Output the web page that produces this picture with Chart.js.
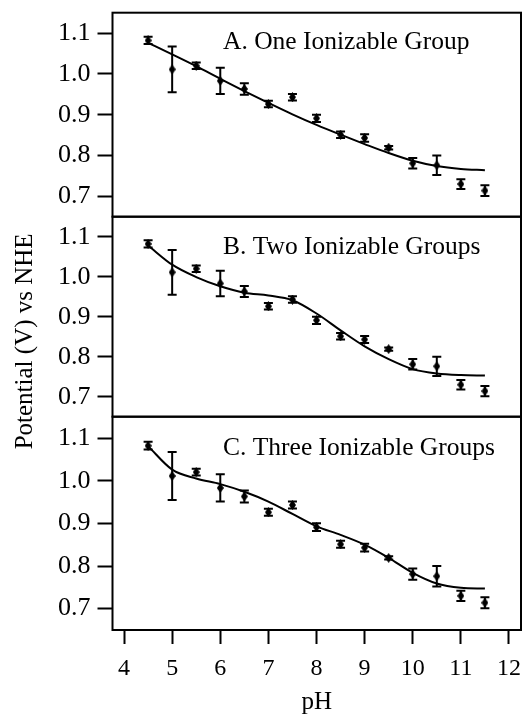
<!DOCTYPE html>
<html>
<head>
<meta charset="utf-8">
<script src="https://cdn.jsdelivr.net/npm/chart.js@4.4.1/dist/chart.umd.min.js"></script>
<style>
  html, body { margin: 0; padding: 0; background: #fff; }
  canvas { display: block; }
</style>
</head>
<body>
<canvas id="myChart" width="527" height="717"></canvas>
<script>
// measured potential (V vs NHE) at each pH, same points in all three panels
const phValues = [4.5, 5, 5.5, 6, 6.5, 7, 7.5, 8, 8.5, 9, 9.5, 10, 10.5, 11, 11.5];
const potential = [1.082, 1.011, 1.020, 0.983, 0.963, 0.926, 0.943, 0.891, 0.851, 0.843, 0.819, 0.781, 0.776, 0.730, 0.714];
const potentialErr = [0.009, 0.056, 0.008, 0.032, 0.014, 0.008, 0.008, 0.009, 0.008, 0.009, 0.004, 0.013, 0.024, 0.012, 0.013];

// fit curves at the same pH values
const fitOne = [1.076, 1.048, 1.019, 0.988, 0.958, 0.929, 0.901, 0.875, 0.851, 0.828, 0.806, 0.787, 0.774, 0.767, 0.764];
const fitTwo = [1.078, 1.030, 0.999, 0.976, 0.960, 0.953, 0.941, 0.908, 0.866, 0.826, 0.794, 0.769, 0.758, 0.754, 0.753];
const fitThree = [1.081, 1.026, 1.005, 0.992, 0.974, 0.951, 0.922, 0.893, 0.873, 0.850, 0.819, 0.784, 0.759, 0.749, 0.747];

const panelTitles = ['A. One Ionizable Group', 'B. Two Ionizable Groups', 'C. Three Ionizable Groups'];
const xTicks = [4, 5, 6, 7, 8, 9, 10, 11, 12];
const yTicks = [0.7, 0.8, 0.9, 1.0, 1.1];

const family = '"Liberation Serif", "Times New Roman", serif';

const panels = [
  { id: 'yA', fit: fitOne, title: panelTitles[0], size: 204, order: 3, titleDy: 36 },
  { id: 'yB', fit: fitTwo, title: panelTitles[1], size: 200, order: 2, titleDy: 37.5 },
  { id: 'yC', fit: fitThree, title: panelTitles[2], size: 213.3, order: 1, titleDy: 38.5 }
];

// small tall diamond used as the marker
const diamond = document.createElement('canvas');
diamond.width = 7;
diamond.height = 10;
const dctx = diamond.getContext('2d');
dctx.fillStyle = '#000';
dctx.beginPath();
dctx.moveTo(3.5, 0);
dctx.lineTo(7, 5);
dctx.lineTo(3.5, 10);
dctx.lineTo(0, 5);
dctx.closePath();
dctx.fill();

const errorBars = {
  id: 'errorBars',
  afterDatasetsDraw(chart) {
    const ctx = chart.ctx;
    const xs = chart.scales.x;
    chart.data.datasets.forEach(ds => {
      if (!ds.errors) return;
      const ys = chart.scales[ds.yAxisID];
      ctx.save();
      ctx.strokeStyle = '#000';
      ctx.lineWidth = 2;
      ds.data.forEach((p, i) => {
        const px = xs.getPixelForValue(p.x);
        const top = ys.getPixelForValue(p.y + ds.errors[i]);
        const bot = ys.getPixelForValue(p.y - ds.errors[i]);
        ctx.beginPath();
        ctx.moveTo(px, top);
        ctx.lineTo(px, bot);
        ctx.moveTo(px - 4.5, top);
        ctx.lineTo(px + 4.5, top);
        ctx.moveTo(px - 4.5, bot);
        ctx.lineTo(px + 4.5, bot);
        ctx.stroke();
      });
      ctx.restore();
    });
  }
};

const panelDecor = {
  id: 'panelDecor',
  afterDraw(chart) {
    const { ctx, chartArea } = chart;
    ctx.save();
    ctx.strokeStyle = '#000';
    ctx.fillStyle = '#000';
    ctx.lineWidth = 2;
    ctx.font = '25.5px ' + family;
    ctx.textBaseline = 'alphabetic';
    panels.forEach(p => {
      const s = chart.scales[p.id];
      ctx.strokeRect(chartArea.left, s.top, chartArea.right - chartArea.left, s.bottom - s.top);
      ctx.fillText(p.title, chartArea.left + 110.5, s.top + p.titleDy);
    });
    // one y title for the whole stack
    ctx.font = '25px ' + family;
    ctx.translate(25, (chartArea.top + chartArea.bottom) / 2 + 20);
    ctx.rotate(-Math.PI / 2);
    ctx.textAlign = 'center';
    ctx.textBaseline = 'middle';
    ctx.fillText('Potential (V) vs NHE', 0, 0);
    ctx.restore();
  }
};

// fixed axis sizes, no extra label padding around the plot area
const fixX = s => { s.height = 87; s.paddingLeft = 0; s.paddingRight = 0; };
const fixY = s => { s.width = 112.5; s.paddingTop = 0; s.paddingBottom = 0; };

const scales = {
  x: {
    type: 'linear',
    position: 'bottom',
    min: 3.76,
    max: 12.25,
    afterBuildTicks: s => { s.ticks = xTicks.map(v => ({ value: v })); },
    afterFit: fixX,
    border: { display: false },
    grid: { drawOnChartArea: false, tickLength: 14, tickWidth: 2, tickColor: '#000' },
    ticks: { color: '#000', font: { family, size: 24 }, padding: 10, maxRotation: 0, autoSkip: false },
    title: { display: true, text: 'pH', color: '#000', font: { family, size: 25, lineHeight: 1 }, padding: { top: 0, bottom: 2 } }
  }
};

panels.forEach(p => {
  scales[p.id] = {
    type: 'linear',
    position: 'left',
    stack: 'panels',
    stackWeight: p.size,
    weight: p.order,
    min: 0.65,
    max: 1.15,
    afterBuildTicks: s => { s.ticks = yTicks.map(v => ({ value: v })); },
    afterFit: fixY,
    border: { display: false },
    grid: { drawOnChartArea: false, tickLength: 15, tickWidth: 2, tickColor: '#000' },
    ticks: { color: '#000', font: { family, size: 26 }, padding: 7, autoSkip: false, callback: v => v.toFixed(1) }
  };
});

const datasets = [];
panels.forEach(p => {
  datasets.push({
    data: phValues.map((x, i) => ({ x, y: potential[i] })),
    errors: potentialErr,
    yAxisID: p.id,
    showLine: false,
    pointStyle: diamond,
    pointRadius: 5,
    backgroundColor: '#000',
    borderColor: '#000'
  });
  datasets.push({
    data: phValues.map((x, i) => ({ x, y: p.fit[i] })),
    yAxisID: p.id,
    showLine: true,
    pointRadius: 0,
    borderColor: '#000',
    borderWidth: 2,
    cubicInterpolationMode: 'monotone'
  });
});

var ctx = document.getElementById('myChart').getContext('2d');
var myChart = new Chart(ctx, {
  type: 'scatter',
  data: { datasets },
  options: {
    responsive: false,
    animation: false,
    layout: { padding: { top: 12.7, right: 4.3, left: 0, bottom: 0 } },
    plugins: { legend: { display: false }, tooltip: { enabled: false } },
    scales
  },
  plugins: [errorBars, panelDecor]
});
</script>
</body>
</html>
